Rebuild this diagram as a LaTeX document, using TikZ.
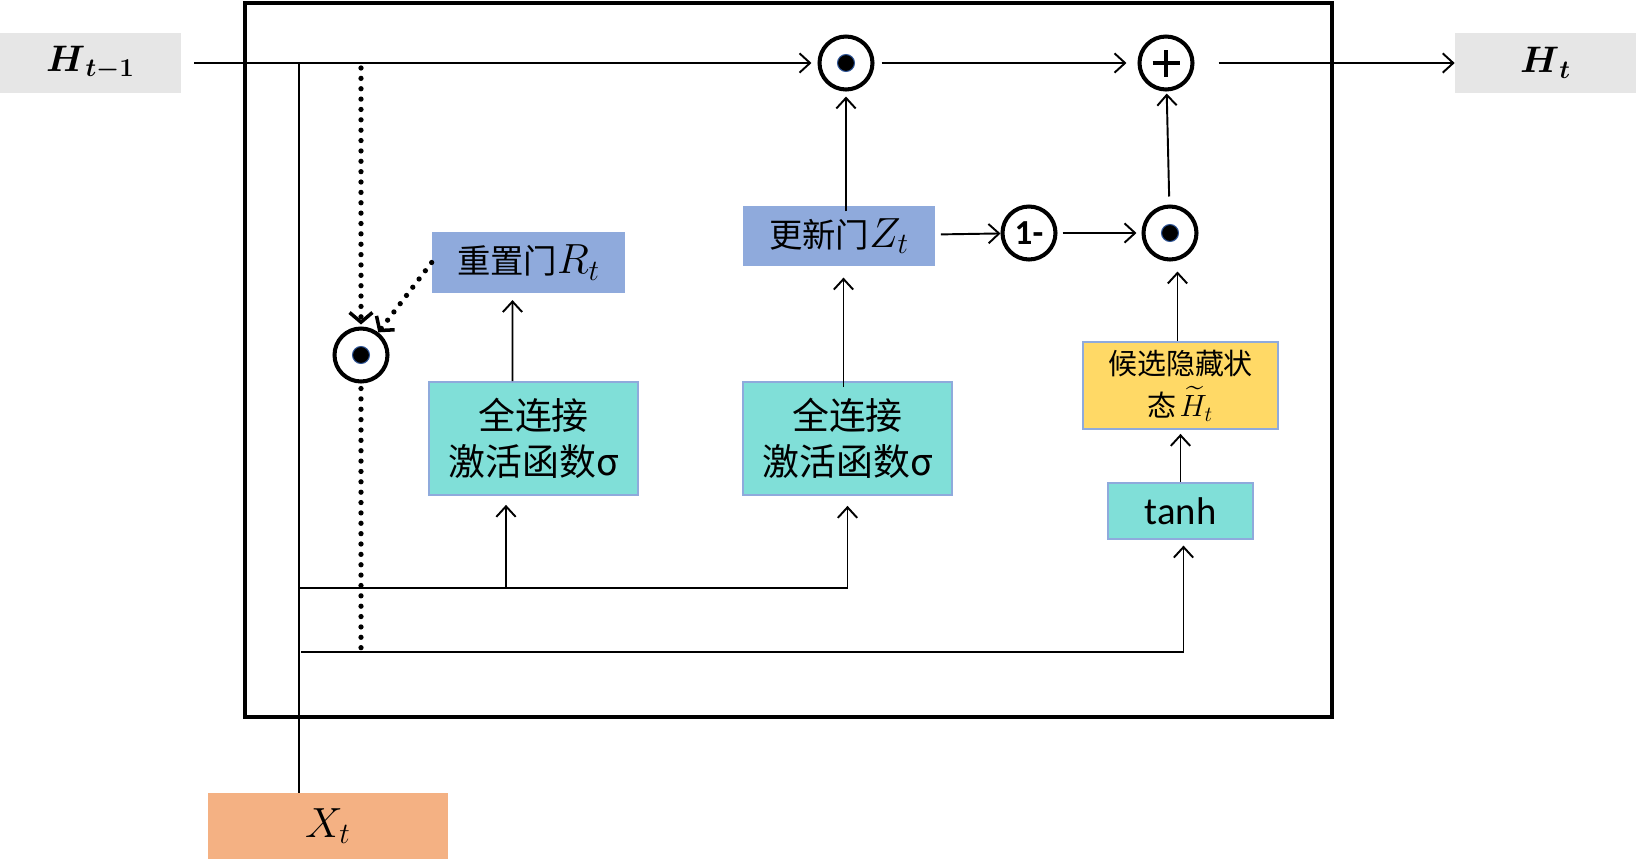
\documentclass[tikz,border=0pt]{standalone}
\usepackage{fix-cm}
\usepackage{amsmath}
\usepackage{amssymb}
\usepackage{fontspec}
\setsansfont{Carlito}
\newfontfamily\cjk{Noto Sans CJK SC}
\usetikzlibrary{arrows.meta,positioning,calc}
\definecolor{gatefill}{HTML}{8FAADC}
\definecolor{fcfill}{HTML}{80DFD8}
\definecolor{candfill}{HTML}{FFD966}
\definecolor{xfill}{HTML}{F4B183}
\definecolor{hfill}{HTML}{E6E6E6}
\definecolor{boxedge}{HTML}{8FAADC}
\definecolor{dotedge}{HTML}{2F5597}
\newcommand{\bigmath}[2]{{\fontsize{#1}{#1}\selectfont$#2$}}

\begin{document}
\begin{tikzpicture}[x=0.02cm, y=-0.02cm,
  hbox/.style={fill=hfill, minimum width=3.62cm, minimum height=1.2cm, inner sep=0pt, font=\fontsize{21}{25}\selectfont},
  gate/.style={fill=gatefill, minimum width=3.86cm, minimum height=1.21cm, inner sep=0pt, font=\fontsize{19}{23}\selectfont\cjk},
  fc/.style={draw=boxedge, line width=1pt, fill=fcfill, minimum width=4.18cm, minimum height=2.26cm, inner sep=0pt, align=center, font=\fontsize{21}{26}\selectfont\cjk},
  op/.style={circle, draw, line width=2.3pt, minimum size=1.06cm, inner sep=0pt, fill=white},
  odot/.style={op, path picture={\fill[black, draw=dotedge, line width=0.6pt] (path picture bounding box.center) circle (0.17cm);}},
  oplus/.style={op, path picture={\draw[line width=2.8pt] ($(path picture bounding box.center)+(-0.27cm,0)$) -- ++(0.54cm,0) ($(path picture bounding box.center)+(0,-0.27cm)$) -- ++(0,0.54cm);}},
  arr/.style={-{Straight Barb[length=6pt,width=11pt]}, line width=1.1pt},
  line/.style={line width=1.1pt},
  dotline/.style={line width=3pt, line cap=round, dash pattern=on 0pt off 5.9pt},
  dotarr/.style={dotline, -{Straight Barb[length=5.5pt,width=13pt,line width=2pt]}}
]
  \useasboundingbox (0,0) rectangle (1637,859);
  % frame of the cell
  \draw[line width=2.6pt] (245,3) rectangle (1332,717);

  % states and input
  \node[hbox] (hprev) at (90.5,63) {$\boldsymbol{H}_{\boldsymbol{t-1}}$};
  \node[hbox] (hcur) at (1545.5,63) {$\boldsymbol{H}_{\boldsymbol{t}}$};
  \node[fill=xfill, minimum width=4.8cm, minimum height=1.32cm, inner sep=0pt, font=\fontsize{24}{28}\selectfont] (xt) at (328,826) {$X_t$};

  % gates
  \node[gate] (rgate) at (528.5,262.5) {重置门\bigmath{24}{R_t}};
  \node[gate] (zgate) at (839,236) {更新门\bigmath{24}{Z_t}};
  \node[fc] (fcR) at (533.5,438.5) {全连接\\激活函数σ};
  \node[fc] (fcZ) at (847.5,438.5) {全连接\\激活函数σ};
  \node[fc, fill=candfill, minimum width=3.9cm, minimum height=1.74cm, font=\fontsize{16.5}{24}\selectfont\cjk] (cand) at (1180.5,385.5) {候选隐藏状\\态\kern1.5pt\bigmath{17.5}{\widetilde{H}_t}};
  \node[fc, minimum width=2.9cm, minimum height=1.12cm, font=\fontsize{22}{26}\selectfont\sffamily, below=1.04cm of cand] (tanh) {tanh};

  % operations
  \node[odot] (odotA) at (846,63) {};
  \node[oplus] (plus) at (1166,63) {};
  \node[odot] (odotB) at (1170,233) {};
  \node[op, font=\fontsize{20}{24}\selectfont\sffamily\bfseries] (one) at (1029,233) {1-};
  \node[odot] (odotC) at (361,355) {};

  % junctions
  \coordinate (jtop) at (299,63);
  \coordinate (jmid) at (299,588);
  \coordinate (jlow) at (301,652);
  \coordinate (jr) at (506,588);
  \coordinate (dtop) at (361,68);
  \coordinate (dbot) at (361,652);

  % top path
  \draw[arr, shorten <=0.26cm, shorten >=0.12cm] (hprev) -- (odotA);
  \draw[arr, shorten <=0.14cm, shorten >=0.22cm] (odotA) -- (plus);
  \draw[arr, shorten <=0.48cm] (plus) -- (hcur);

  % input lines
  \draw[line] (xt.north -| jtop) -- (jtop);
  \draw[arr, shorten >=0.2cm] (jmid) -| (fcZ.south);
  \draw[arr, shorten >=0.18cm] (jr) -- (jr |- fcR.south);
  \draw[arr, shorten >=0.12cm] (jlow) -| ([xshift=0.06cm]tanh.south);

  % gates to operations
  \draw[arr, shorten >=0.14cm] ([xshift=-0.42cm]fcR.north) -- ([xshift=-0.32cm]rgate.south);
  \draw[arr, shorten <=-0.12cm, shorten >=0.22cm] ([xshift=-0.08cm]fcZ.north) -- ([xshift=-0.08cm]fcZ.north |- zgate.south);
  \draw[arr, shorten <=-0.12cm, shorten >=0.1cm] (zgate.north -| odotA) -- (odotA);
  \draw[arr, shorten <=0.1cm] (zgate) -- (one);
  \draw[arr, shorten <=0.1cm, shorten >=0.1cm] (one) -- (odotB);
  \draw[arr, shorten <=0.16cm, shorten >=0.04cm] (odotB) -- (plus);
  \draw[arr, shorten >=0.2cm] ([xshift=-0.06cm]cand.north) -- ([xshift=-0.06cm]cand.north |- odotB.south);
  \draw[arr, shorten >=0.08cm] (tanh) -- (cand);

  % reset path
  \draw[dotarr, shorten >=0.04cm] (dtop) -- (odotC);
  \draw[dotline, shorten <=0.1cm] (odotC) -- (dbot);
  \draw[dotarr] (rgate.west) -- (odotC);
\end{tikzpicture}
\end{document}
